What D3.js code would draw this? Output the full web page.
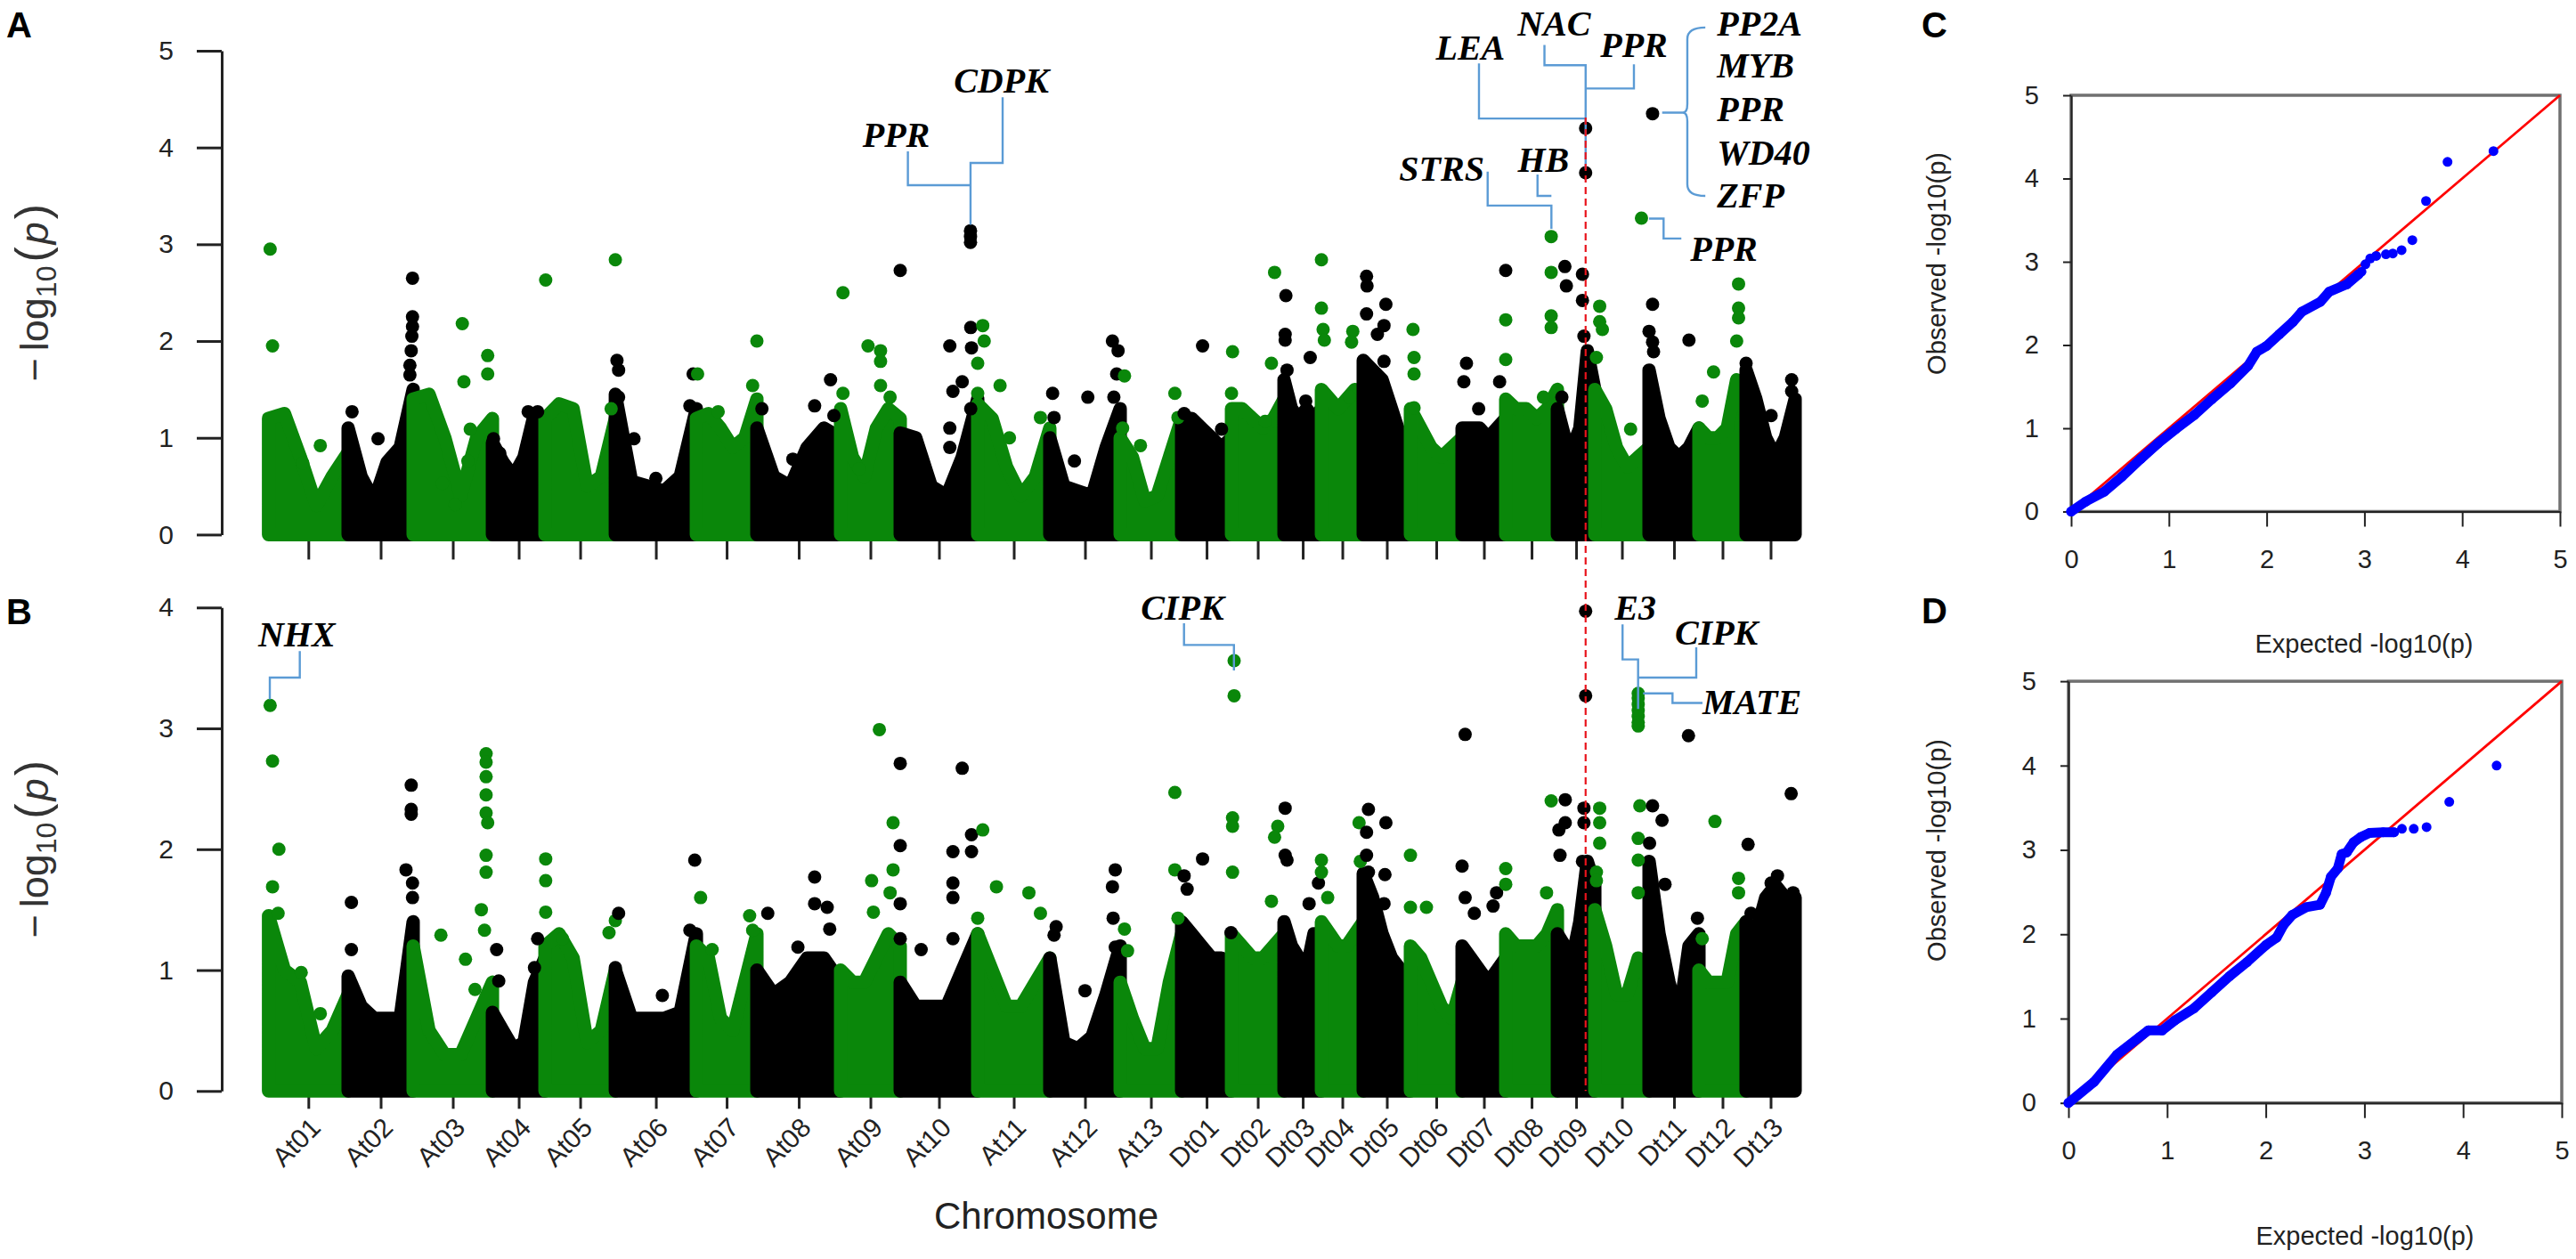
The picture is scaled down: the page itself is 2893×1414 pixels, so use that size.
<!DOCTYPE html>
<html>
<head>
<meta charset="utf-8">
<script src="https://cdn.jsdelivr.net/npm/d3@7"></script>
<style>
  body { margin: 0; background: #fff; }
  svg { display: block; }
</style>
</head>
<body>
<svg id="chart" width="2893" height="1414"></svg>
<script>
// ---- data ----
const chromosomes = ['At01','At02','At03','At04','At05','At06','At07','At08','At09','At10','At11','At12','At13',
                     'Dt01','Dt02','Dt03','Dt04','Dt05','Dt06','Dt07','Dt08','Dt09','Dt10','Dt11','Dt12','Dt13'];
// covered length of each chromosome (Mb)
const chromLengthMb = [100.9, 82.4, 100.5, 66.6, 89.2, 102.7, 76.7, 106.1, 75.6, 98.2, 91.4, 89.2, 77.9,
                       63.2, 66.6, 47.4, 53.0, 59.8, 65.5, 55.3, 65.5, 47.4, 68.8, 63.2, 59.8, 62.1];

// upper edge of the dense SNP cloud, -log10(p), at 0, 20, 40, 60, 80, 100 % of each chromosome
const denseA = [
  [1.2, 1.25, 0.8, 0.3, 0.6, 0.85], [1.1, 0.6, 0.35, 0.75, 0.9, 1.5], [1.4, 1.45, 1.0, 0.4, 1.0, 1.2],
  [0.95, 0.75, 0.6, 0.8, 1.25, 1.2], [1.2, 1.35, 1.3, 0.5, 0.6, 1.2], [1.45, 0.55, 0.5, 0.45, 0.6, 1.3],
  [1.2, 1.25, 1.1, 0.9, 1.0, 1.4], [1.1, 0.6, 0.5, 0.9, 1.1, 1.0], [1.3, 0.8, 0.6, 1.1, 1.3, 1.2],
  [1.05, 1.0, 0.5, 0.4, 0.8, 1.4], [1.35, 1.2, 0.7, 0.4, 0.6, 1.1], [1.0, 0.5, 0.45, 0.4, 0.9, 1.3],
  [1.0, 0.8, 0.35, 0.4, 0.8, 1.2], [1.2, 1.2, 1.1, 1.0, 0.9, 1.0], [1.3, 1.3, 1.2, 1.1, 1.2, 1.4],
  [1.6, 1.3, 1.2, 1.3, 1.2, 1.3], [1.5, 1.4, 1.3, 1.4, 1.5, 1.4], [1.8, 1.7, 1.6, 1.3, 1.0, 0.9],
  [1.3, 1.1, 0.9, 0.8, 0.9, 1.0], [1.1, 1.1, 1.1, 1.0, 1.1, 1.2], [1.4, 1.3, 1.3, 1.2, 1.3, 1.5],
  [1.3, 1.0, 0.9, 1.1, 1.9, 1.5], [1.5, 1.3, 0.9, 0.7, 0.8, 0.9], [1.7, 1.2, 0.9, 0.8, 0.9, 1.1],
  [1.1, 1.0, 1.0, 1.1, 1.6, 1.2], [1.7, 1.4, 1.0, 0.8, 1.0, 1.4]
];
const denseB = [
  [1.45, 1.0, 0.9, 0.35, 0.5, 0.8], [0.95, 0.7, 0.6, 0.6, 0.6, 1.4], [1.2, 0.5, 0.3, 0.3, 0.6, 0.9],
  [0.65, 0.5, 0.35, 0.4, 0.9, 1.1], [1.2, 1.3, 1.1, 0.4, 0.5, 1.0], [1.0, 0.6, 0.6, 0.6, 0.65, 1.3],
  [1.2, 1.1, 0.6, 0.5, 0.9, 1.3], [1.0, 0.8, 0.9, 1.1, 1.1, 0.9], [1.0, 0.9, 0.9, 1.1, 1.3, 1.2],
  [0.9, 0.7, 0.7, 0.7, 1.0, 1.3], [1.3, 1.0, 0.7, 0.7, 0.9, 1.1], [1.1, 0.4, 0.35, 0.45, 0.8, 1.2],
  [0.9, 0.6, 0.35, 0.35, 0.9, 1.3], [1.4, 1.3, 1.2, 1.1, 1.1, 1.0], [1.3, 1.2, 1.1, 1.1, 1.2, 1.3],
  [1.4, 1.2, 1.1, 1.0, 1.3, 1.3], [1.4, 1.3, 1.2, 1.2, 1.3, 1.4], [1.8, 1.6, 1.3, 1.1, 1.0, 0.9],
  [1.2, 1.1, 0.9, 0.7, 0.6, 0.9], [1.2, 1.1, 1.0, 0.9, 1.0, 1.1], [1.3, 1.2, 1.2, 1.2, 1.3, 1.5],
  [1.3, 1.2, 1.1, 1.4, 1.9, 1.7], [1.5, 1.2, 0.8, 0.8, 1.1, 0.9], [1.9, 1.3, 0.9, 0.6, 1.2, 1.3],
  [1.0, 0.9, 0.9, 0.9, 1.3, 1.4], [1.4, 1.3, 1.6, 1.7, 1.6, 1.6]
];

// individual SNPs above the cloud: [chromosome, relative position, -log10(p)]
const outliersA = [
  ['At01',0.02,2.95],['At01',0.05,1.95],['At01',0.65,0.92],['At01',0.43,0.74],
  ['At02',0.06,1.27],['At02',0.46,0.99],['At02',0.68,0.8],['At02',0.99,2.65],['At02',0.99,2.25],['At02',0.99,2.15],
  ['At02',0.98,2.05],['At02',0.97,1.9],['At02',0.95,1.75],['At02',0.95,1.65],
  ['At03',0.62,2.18],['At03',0.64,1.58],['At03',0.94,1.85],['At03',0.94,1.66],['At03',0.72,1.09],['At03',0.69,0.76],
  ['At03',0.37,0.53],['At03',0.53,0.31],
  ['At04',0.02,0.99],['At04',0.14,0.84],['At04',0.68,1.27],['At04',0.86,1.27],['At04',0.5,0.64],
  ['At05',0.01,2.63],['At05',1.0,2.84],['At05',0.94,1.3],
  ['At06',0.02,1.8],['At06',0.04,1.7],['At06',0.04,1.42],['At06',0.23,0.99],['At06',0.5,0.58],['At06',0.96,1.66],['At06',0.92,1.33],
  ['At07',0.02,1.66],['At07',0.36,1.27],['At07',1.0,2.0],['At07',0.93,1.54],
  ['At08',0.06,1.3],['At08',0.43,0.78],['At08',0.69,1.33],['At08',0.88,1.6],['At08',0.92,1.23],
  ['At09',0.04,2.5],['At09',0.46,1.95],['At09',0.67,1.9],['At09',0.67,1.79],['At09',0.67,1.54],['At09',0.83,1.42],
  ['At09',0.31,0.68],['At09',0.04,1.46],
  ['At10',0.0,2.73],['At10',0.64,1.95],['At10',0.68,1.48],['At10',0.64,1.1],['At10',0.8,1.58],['At10',0.91,2.14],
  ['At10',0.92,1.93],['At10',0.91,1.3],['At10',0.907,3.14],['At10',0.907,3.08],['At10',0.907,3.02],['At10',0.64,0.9],
  ['At11',0.07,2.16],['At11',0.09,2.0],['At11',0.0,1.77],['At11',0.0,1.46],['At11',0.31,1.54],['At11',0.44,1.0],['At11',0.87,1.21],
  ['At12',0.04,1.46],['At12',0.06,1.21],['At12',0.54,1.42],['At12',0.35,0.76],['At12',0.89,2.0],['At12',0.97,1.9],
  ['At12',0.95,1.66],['At12',0.91,1.42],
  ['At13',0.07,1.64],['At13',0.04,1.1],['At13',0.33,0.92],['At13',0.89,1.46],['At13',0.94,1.21],
  ['Dt01',0.42,1.95],['Dt01',0.05,1.25],['Dt01',0.8,1.09],
  ['Dt02',0.02,1.89],['Dt02',0.0,1.46],['Dt02',0.76,1.77],['Dt02',0.82,2.71],['Dt02',0.64,1.17],
  ['Dt03',0.05,2.47],['Dt03',0.03,2.07],['Dt03',0.03,2.01],['Dt03',0.08,1.7],['Dt03',0.7,1.83],['Dt03',0.58,1.38],
  ['Dt04',0.0,2.84],['Dt04',0.0,2.34],['Dt04',0.04,2.12],['Dt04',0.07,2.01],['Dt04',0.75,2.1],['Dt04',0.72,1.99],['Dt04',0.67,1.42],
  ['Dt05',0.07,2.67],['Dt05',0.08,2.57],['Dt05',0.07,2.28],['Dt05',0.48,2.38],['Dt05',0.44,2.16],['Dt05',0.3,2.07],['Dt05',0.44,1.79],
  ['Dt06',0.05,2.12],['Dt06',0.07,1.83],['Dt06',0.07,1.66],['Dt06',0.07,1.31],
  ['Dt07',0.1,1.77],['Dt07',0.04,1.58],['Dt07',0.38,1.3],['Dt07',1.0,2.73],['Dt07',0.86,1.58],
  ['Dt08',0.0,2.22],['Dt08',0.0,1.81],['Dt08',0.88,3.08],['Dt08',0.88,2.71],['Dt08',0.88,2.26],['Dt08',0.88,2.14],['Dt08',0.73,1.42],
  ['Dt09',0.2,2.77],['Dt09',0.24,2.57],['Dt09',0.12,1.42],['Dt09',0.67,2.69],['Dt09',0.67,2.42],['Dt09',0.71,2.05],
  ['Dt09',0.755,4.2],['Dt09',0.755,3.74],
  ['Dt10',0.09,2.36],['Dt10',0.09,2.2],['Dt10',0.14,2.12],['Dt10',0.03,1.83],['Dt10',0.66,1.09],['Dt10',0.86,3.27],
  ['Dt11',0.07,4.35],['Dt11',0.07,2.38],['Dt11',0.0,2.1],['Dt11',0.07,1.99],['Dt11',0.09,1.89],['Dt11',0.8,2.01],
  ['Dt12',0.84,2.59],['Dt12',0.84,2.34],['Dt12',0.84,2.24],['Dt12',0.8,2.0],['Dt12',0.31,1.68],['Dt12',0.07,1.38],
  ['Dt13',0.93,1.6],['Dt13',0.93,1.48],['Dt13',0.89,1.15],['Dt13',0.51,1.23],['Dt13',0.0,1.77]
];
const outliersB = [
  ['At01',0.02,3.19],['At01',0.05,2.73],['At01',0.13,2.0],['At01',0.05,1.69],['At01',0.12,1.47],['At01',0.41,0.98],['At01',0.65,0.64],
  ['At02',0.05,1.56],['At02',0.05,1.17],['At02',0.97,2.53],['At02',0.97,2.33],['At02',0.97,2.29],['At02',0.89,1.83],
  ['At02',0.99,1.72],['At02',0.99,1.6],
  ['At03',0.35,1.29],['At03',0.66,1.09],['At03',0.78,0.84],['At03',0.92,2.79],['At03',0.92,2.72],['At03',0.92,2.6],
  ['At03',0.92,2.45],['At03',0.92,2.3],['At03',0.94,2.22],['At03',0.92,1.95],['At03',0.92,1.81],['At03',0.86,1.5],['At03',0.9,1.33],
  ['At04',0.08,1.17],['At04',0.12,0.91],['At04',0.86,1.26],['At04',0.8,1.02],
  ['At05',0.01,1.92],['At05',0.01,1.74],['At05',0.01,1.48],['At05',0.25,1.26],['At05',0.91,1.31],['At05',1.0,1.41],
  ['At06',0.04,1.47],['At06',0.0,1.02],['At06',0.58,0.79],['At06',0.98,1.91],['At06',0.92,1.33],
  ['At07',0.07,1.6],['At07',0.26,1.17],['At07',0.88,1.45],['At07',0.93,1.33],
  ['At08',0.13,1.47],['At08',0.49,1.19],['At08',0.69,1.77],['At08',0.69,1.55],['At08',0.84,1.52],['At08',0.87,1.34],
  ['At09',0.65,2.99],['At09',0.52,1.74],['At09',0.55,1.48],['At09',0.88,2.22],['At09',0.88,1.83],['At09',0.83,1.64],
  ['At10',0.0,2.71],['At10',0.0,2.03],['At10',0.0,1.55],['At10',0.0,1.26],['At10',0.27,1.17],['At10',0.68,1.98],
  ['At10',0.68,1.72],['At10',0.68,1.6],['At10',0.8,2.67],['At10',0.92,2.12],['At10',0.92,1.98],['At10',0.68,1.26],
  ['At11',0.07,2.16],['At11',0.0,1.43],['At11',0.26,1.69],['At11',0.71,1.64],['At11',0.87,1.47],
  ['At12',0.09,1.36],['At12',0.06,1.29],['At12',0.5,0.83],['At12',0.93,1.83],['At12',0.89,1.69],['At12',0.9,1.43],['At12',0.93,1.19],
  ['At13',0.07,1.34],['At13',0.12,1.16],['At13',0.89,2.47],['At13',0.89,1.83],['At13',0.94,1.43],
  ['Dt01',0.05,1.78],['Dt01',0.11,1.67],['Dt01',0.42,1.92],['Dt01',0.99,1.31],
  ['Dt02',0.05,3.56],['Dt02',0.05,3.27],['Dt02',0.02,2.26],['Dt02',0.02,2.19],['Dt02',0.02,1.81],['Dt02',0.88,2.19],
  ['Dt02',0.82,2.1],['Dt02',0.76,1.57],
  ['Dt03',0.03,2.34],['Dt03',0.03,1.95],['Dt03',0.08,1.91],['Dt03',0.92,1.72],['Dt03',0.67,1.55],
  ['Dt04',0.0,1.91],['Dt04',0.0,1.81],['Dt04',0.15,1.6],['Dt04',0.9,2.22],['Dt04',0.93,1.9],
  ['Dt05',0.11,2.33],['Dt05',0.07,2.14],['Dt05',0.48,2.22],['Dt05',0.07,1.95],['Dt05',0.11,1.81],['Dt05',0.46,1.79],['Dt05',0.44,1.55],
  ['Dt06',0.0,1.95],['Dt06',0.0,1.52],['Dt06',0.31,1.52],
  ['Dt07',0.07,2.95],['Dt07',0.0,1.86],['Dt07',0.07,1.6],['Dt07',0.28,1.47],['Dt07',0.79,1.64],['Dt07',0.71,1.53],
  ['Dt08',0.0,1.84],['Dt08',0.0,1.71],['Dt08',0.88,2.4],['Dt08',0.79,1.64],
  ['Dt09',0.21,2.41],['Dt09',0.21,2.22],['Dt09',0.04,2.16],['Dt09',0.07,1.95],['Dt09',0.755,3.97],['Dt09',0.755,3.27],
  ['Dt09',0.71,2.34],['Dt09',0.71,2.22],['Dt09',0.67,1.9],
  ['Dt10',0.09,2.34],['Dt10',0.09,2.22],['Dt10',0.09,2.05],['Dt10',0.03,1.81],['Dt10',0.03,1.74],
  ['Dt10',0.8,3.29],['Dt10',0.8,3.25],['Dt10',0.8,3.2],['Dt10',0.8,3.15],['Dt10',0.8,3.1],['Dt10',0.8,3.05],['Dt10',0.8,3.02],
  ['Dt10',0.83,2.36],['Dt10',0.8,2.09],['Dt10',0.8,1.91],['Dt10',0.8,1.64],
  ['Dt11',0.07,2.36],['Dt11',0.26,2.24],['Dt11',0.79,2.94],['Dt11',0.01,2.05],['Dt11',0.32,1.71],['Dt11',0.97,1.43],
  ['Dt12',0.34,2.23],['Dt12',0.07,1.26],['Dt12',0.84,1.76],['Dt12',0.84,1.64],
  ['Dt13',0.92,2.46],['Dt13',0.04,2.04],['Dt13',0.1,1.47],['Dt13',0.64,1.78],['Dt13',0.96,1.64],['Dt13',0.51,1.72]
];

// candidate gene labels; x in cumulative Mb, y in -log10(p); path = elbow leader line
const annotationsA = [
  { text: 'PPR',  x: 795.6,  y: 4.01, path: [[810.4,3.96],[810.4,3.61],[889.8,3.61]] },
  { text: 'CDPK', x: 928.8,  y: 4.57, path: [[930.5,4.52],[930.5,3.84],[889.8,3.84],[889.8,3.2]] },
  { text: 'LEA',  x: 1523.5, y: 4.91, path: [[1534.3,4.87],[1534.3,4.30],[1669.5,4.30]] },
  { text: 'NAC',  x: 1629.5, y: 5.16, path: [[1617.3,5.06],[1617.3,4.85],[1669.5,4.85],[1669.5,3.78]] },
  { text: 'PPR',  x: 1730.7, y: 4.94, path: [[1730.7,4.86],[1730.7,4.61],[1669.5,4.61]] },
  { text: 'STRS', x: 1487.1, y: 3.66, path: [[1545.3,3.75],[1545.3,3.40],[1626.1,3.40],[1626.1,3.16]] },
  { text: 'HB',   x: 1615.9, y: 3.75, path: [[1608.5,3.72],[1608.5,3.5],[1626.1,3.5]] },
  { text: 'PPR',  x: 1802.1, y: 2.83, anchor: 'start', path: [[1749.9,3.265],[1768.3,3.265],[1768.3,3.06],[1790.8,3.06]] }
];
const braceGenes = ['PP2A', 'MYB', 'PPR', 'WD40', 'ZFP'];
const braceGeneY = [5.16, 4.72, 4.27, 3.82, 3.38];
const braceA = { tip: 1792.8, spine: 1798.4, end: 1821.2, top: 5.24, mid: 4.36, bottom: 3.50, leadFrom: 1766.5, textX: 1836.0 };

const annotationsB = [
  { text: 'NHX',  x: 35.7,   y: 3.68, path: [[39.6,3.64],[39.6,3.42],[1.6,3.42],[1.6,3.24]] },
  { text: 'CIPK', x: 1158.5, y: 3.90, path: [[1160.4,3.87],[1160.4,3.69],[1223.7,3.69],[1223.7,3.48]] },
  { text: 'E3',   x: 1732.5, y: 3.90, path: [[1716.3,3.86],[1716.3,3.57],[1736,3.57],[1736,3.16]] },
  { text: 'CIPK', x: 1835.2, y: 3.69, path: [[1809.7,3.67],[1809.7,3.42],[1736,3.42]] },
  { text: 'MATE', x: 1817.6, y: 3.12, anchor: 'start', path: [[1742.3,3.29],[1779.6,3.29],[1779.6,3.21],[1817.6,3.21]] }
];
// SNP marked by the dashed line (Dt09)
const markedSNP = ['Dt09', 0.755];

// QQ plots: [expected, observed]
const qqCurveC = [[0,0],[0.15,0.12],[0.34,0.24],[0.52,0.42],[0.71,0.63],[0.89,0.82],[1.07,0.99],[1.26,1.16],
  [1.44,1.35],[1.63,1.54],[1.81,1.75],[1.90,1.92],[2.0,1.99],[2.13,2.13],[2.27,2.28],[2.36,2.40],[2.55,2.52],
  [2.64,2.64],[2.82,2.73],[2.94,2.85]];
const qqTailC = [[2.97,2.88],[3.01,2.97],[3.06,3.04],[3.12,3.07],[3.22,3.09],[3.29,3.10],[3.38,3.14],[3.49,3.26],
  [3.63,3.73],[3.85,4.20],[4.32,4.33]];
const qqCurveD = [[0,0],[0.26,0.25],[0.49,0.57],[0.72,0.78],[0.81,0.86],[0.95,0.86],[1.08,0.98],[1.27,1.12],
  [1.45,1.31],[1.63,1.50],[1.81,1.67],[2.0,1.87],[2.11,1.96],[2.18,2.11],[2.27,2.23],[2.41,2.32],[2.55,2.35],
  [2.61,2.49],[2.66,2.68],[2.73,2.78],[2.77,2.95],[2.82,2.97],[2.89,3.09],[2.96,3.15],[3.05,3.20],[3.19,3.21],[3.30,3.21]];
const qqTailD = [[3.38,3.25],[3.50,3.25],[3.63,3.27],[3.86,3.57],[4.34,4.00]];

// ---- drawing ----
const GREEN = '#0a870a';
const AXIS = '#222';
const LEADER = '#5b9bd5';
const SANS = 'Liberation Sans, Arial, sans-serif';
const SERIF = 'Liberation Serif, Times New Roman, serif';
const DOT_R = 7.5;

const svg = d3.select('#chart');
svg.append('rect').attr('width', 2893).attr('height', 1414).attr('fill', '#fff');

const chromStart = [0].concat(Array.from(d3.cumsum(chromLengthMb))).slice(0, chromosomes.length);
const chromIndex = new Map(chromosomes.map((c, i) => [c, i]));
const chromCenter = chromosomes.map((c, i) => chromStart[i] + chromLengthMb[i] / 2);
const genomePos = (chr, frac) => {
  const i = chromIndex.get(chr);
  return chromStart[i] + frac * chromLengthMb[i];
};
const colorOf = chr => chromIndex.get(chr) % 2 === 0 ? GREEN : '#000';

const x = d3.scaleLinear().domain([0, d3.sum(chromLengthMb)]).range([301.6, 2016]);

const yA = d3.scaleLinear().domain([0, 5]).range([600.4, 57]);
const yB = d3.scaleLinear().domain([0, 4]).range([1225.3, 682.3]);

function styleAxis(g, size) {
  g.attr('font-family', SANS).attr('font-size', size);
  g.selectAll('.domain, .tick line').attr('stroke', AXIS).attr('stroke-width', 3);
  g.selectAll('.tick text').attr('fill', AXIS);
}

function drawManhattan(opts) {
  const y = opts.y;
  const g = svg.append('g').attr('class', 'manhattan-' + opts.id);

  // y axis
  const ya = g.append('g')
    .attr('transform', 'translate(249,0)')
    .call(d3.axisLeft(y).ticks(opts.yMax).tickSize(28).tickSizeOuter(0).tickPadding(26).tickFormat(d3.format('d')));
  styleAxis(ya, 30);

  // x axis: line from first to last chromosome tick
  const xa = g.append('g')
    .attr('transform', `translate(0,${y(0)})`)
    .call(d3.axisBottom(x).tickValues(chromCenter).tickSize(opts.tickLen).tickSizeOuter(0)
      .tickFormat((d, i) => opts.tickLabels ? chromosomes[i] : ''));
  xa.select('.domain').remove();
  xa.append('line')
    .attr('x1', x(chromCenter[0])).attr('x2', x(chromCenter[chromCenter.length - 1]))
    .attr('stroke', AXIS).attr('stroke-width', 3);
  styleAxis(xa, 30);
  if (opts.tickLabels) {
    xa.selectAll('.tick text')
      .attr('y', null).attr('dy', null)
      .attr('text-anchor', 'end')
      .attr('transform', 'translate(15,43) rotate(-45)');
  }

  // dense SNP cloud per chromosome
  const area = d3.area()
    .x(d => x(d[0]))
    .y0(y(0))
    .y1(d => y(d[1]));
  g.append('g').selectAll('path')
    .data(opts.dense)
    .join('path')
    .attr('d', (hs, i) => area(hs.map((h, j) => [chromStart[i] + chromLengthMb[i] * j / (hs.length - 1), h])))
    .attr('fill', (d, i) => i % 2 === 0 ? GREEN : '#000')
    .attr('stroke', (d, i) => i % 2 === 0 ? GREEN : '#000')
    .attr('stroke-width', DOT_R * 2)
    .attr('stroke-linejoin', 'round');

  // single SNPs
  g.append('g').selectAll('circle')
    .data(opts.outliers)
    .join('circle')
    .attr('cx', d => x(genomePos(d[0], d[1])))
    .attr('cy', d => y(d[2]))
    .attr('r', DOT_R)
    .attr('fill', d => colorOf(d[0]));

  // leader lines and gene labels
  const line = d3.line().x(d => x(d[0])).y(d => y(d[1]));
  const ann = g.append('g');
  ann.selectAll('path')
    .data(opts.annotations)
    .join('path')
    .attr('d', d => line(d.path))
    .attr('fill', 'none')
    .attr('stroke', LEADER)
    .attr('stroke-width', 2.4);
  ann.selectAll('text')
    .data(opts.annotations)
    .join('text')
    .attr('x', d => x(d.x))
    .attr('y', d => y(d.y))
    .attr('text-anchor', d => d.anchor || 'middle')
    .attr('font-family', SERIF)
    .attr('font-weight', 'bold')
    .attr('font-style', 'italic')
    .attr('font-size', 40)
    .text(d => d.text);

  // y axis title: -log10(p)
  const t = g.append('text')
    .attr('transform', `translate(54,${(y(0) + y(opts.yMax)) / 2}) rotate(-90)`)
    .attr('text-anchor', 'middle')
    .attr('font-family', SANS)
    .attr('font-size', 45)
    .attr('fill', '#333');
  t.append('tspan').text('\u2212');
  t.append('tspan').attr('dx', 8).text('log');
  t.append('tspan').attr('font-size', 32).attr('dy', 9).text('10');
  t.append('tspan').attr('font-size', 52).attr('dy', -9).attr('dx', 4).text('(');
  t.append('tspan').attr('font-style', 'italic').attr('dx', 3).text('p');
  t.append('tspan').attr('font-size', 52).attr('dx', 3).text(')');

  return g;
}

drawManhattan({ id: 'A', y: yA, yMax: 5, tickLen: 28, tickLabels: false,
  dense: denseA, outliers: outliersA, annotations: annotationsA });
drawManhattan({ id: 'B', y: yB, yMax: 4, tickLen: 20, tickLabels: true,
  dense: denseB, outliers: outliersB, annotations: annotationsB });

// brace for the gene group in A
const bp = d3.path();
bp.moveTo(x(braceA.end), yA(braceA.top));
bp.quadraticCurveTo(x(braceA.spine), yA(braceA.top), x(braceA.spine), yA(braceA.top - 0.12));
bp.lineTo(x(braceA.spine), yA(braceA.mid + 0.09));
bp.quadraticCurveTo(x(braceA.spine), yA(braceA.mid), x(braceA.tip), yA(braceA.mid));
bp.quadraticCurveTo(x(braceA.spine), yA(braceA.mid), x(braceA.spine), yA(braceA.mid - 0.09));
bp.lineTo(x(braceA.spine), yA(braceA.bottom + 0.12));
bp.quadraticCurveTo(x(braceA.spine), yA(braceA.bottom), x(braceA.end), yA(braceA.bottom));
bp.moveTo(x(braceA.leadFrom), yA(braceA.mid));
bp.lineTo(x(braceA.tip), yA(braceA.mid));
svg.append('path').attr('d', bp.toString())
  .attr('fill', 'none').attr('stroke', LEADER).attr('stroke-width', 2.4);
svg.append('g').selectAll('text')
  .data(braceGenes)
  .join('text')
  .attr('x', x(braceA.textX))
  .attr('y', (d, i) => yA(braceGeneY[i]))
  .attr('font-family', SERIF).attr('font-weight', 'bold').attr('font-style', 'italic')
  .attr('font-size', 40)
  .text(d => d);

// dashed marker through both panels
const markX = x(genomePos(markedSNP[0], markedSNP[1]));
svg.append('line')
  .attr('x1', markX).attr('x2', markX)
  .attr('y1', yA(4.31)).attr('y2', yB(0))
  .attr('stroke', '#e8141c').attr('stroke-width', 2.2)
  .attr('stroke-dasharray', '8,5');

// x axis title
svg.append('text')
  .attr('x', 1175).attr('y', 1380)
  .attr('text-anchor', 'middle')
  .attr('font-family', SANS).attr('font-size', 42).attr('fill', AXIS)
  .text('Chromosome');

// ---- QQ plots ----
function drawQQ(opts) {
  const qx = d3.scaleLinear().domain([0, 5]).range(opts.xRange);
  const qy = d3.scaleLinear().domain([0, 5]).range(opts.yRange);
  const g = svg.append('g');

  g.append('rect')
    .attr('x', opts.xRange[0]).attr('y', opts.yRange[1])
    .attr('width', opts.xRange[1] - opts.xRange[0]).attr('height', opts.yRange[0] - opts.yRange[1])
    .attr('fill', 'none').attr('stroke', '#707070').attr('stroke-width', 3.5);

  const ax = g.append('g').attr('transform', `translate(0,${opts.yRange[0]})`)
    .call(d3.axisBottom(qx).ticks(5).tickSize(17).tickSizeOuter(0).tickPadding(26));
  const ay = g.append('g').attr('transform', `translate(${opts.xRange[0]},0)`)
    .call(d3.axisLeft(qy).ticks(5).tickSize(9).tickSizeOuter(0).tickPadding(27));
  [ax, ay].forEach(a => {
    a.attr('font-family', SANS).attr('font-size', 29);
    a.selectAll('.domain').attr('stroke', AXIS).attr('stroke-width', 2);
    a.selectAll('.tick line').attr('stroke', AXIS).attr('stroke-width', 2);
    a.selectAll('.tick text').attr('fill', AXIS);
  });

  // expected line
  g.append('line')
    .attr('x1', qx(0)).attr('y1', qy(0)).attr('x2', qx(5)).attr('y2', qy(5))
    .attr('stroke', '#ff0000').attr('stroke-width', 2.8);

  // observed points
  g.append('path')
    .attr('d', d3.line().x(d => qx(d[0])).y(d => qy(d[1]))(opts.curve))
    .attr('fill', 'none').attr('stroke', '#0000ff').attr('stroke-width', 11)
    .attr('stroke-linecap', 'round').attr('stroke-linejoin', 'round');
  g.append('g').selectAll('circle')
    .data(opts.curve.concat(opts.tail))
    .join('circle')
    .attr('cx', d => qx(d[0])).attr('cy', d => qy(d[1]))
    .attr('r', 5.5).attr('fill', '#0000ff');

  g.append('text')
    .attr('transform', `translate(2185,${opts.yLabelY}) rotate(-90)`)
    .attr('text-anchor', 'middle')
    .attr('font-family', SANS).attr('font-size', 29).attr('fill', AXIS)
    .text('Observed -log10(p)');
  g.append('text')
    .attr('x', opts.xLabelX).attr('y', opts.xLabelY)
    .attr('text-anchor', 'middle')
    .attr('font-family', SANS).attr('font-size', 29).attr('fill', AXIS)
    .text('Expected -log10(p)');
}

drawQQ({ xRange: [2326, 2875], yRange: [574.5, 107], curve: qqCurveC, tail: qqTailC,
  yLabelY: 296, xLabelX: 2655, xLabelY: 733 });
drawQQ({ xRange: [2323, 2877], yRange: [1238.7, 765.1], curve: qqCurveD, tail: qqTailD,
  yLabelY: 955, xLabelX: 2656, xLabelY: 1398 });

// panel letters
svg.append('g').selectAll('text')
  .data([['A', 7, 42], ['B', 7, 701], ['C', 2158, 42], ['D', 2158, 700]])
  .join('text')
  .attr('x', d => d[1]).attr('y', d => d[2])
  .attr('font-family', SANS).attr('font-weight', 'bold').attr('font-size', 40)
  .text(d => d[0]);
</script>
</body>
</html>
